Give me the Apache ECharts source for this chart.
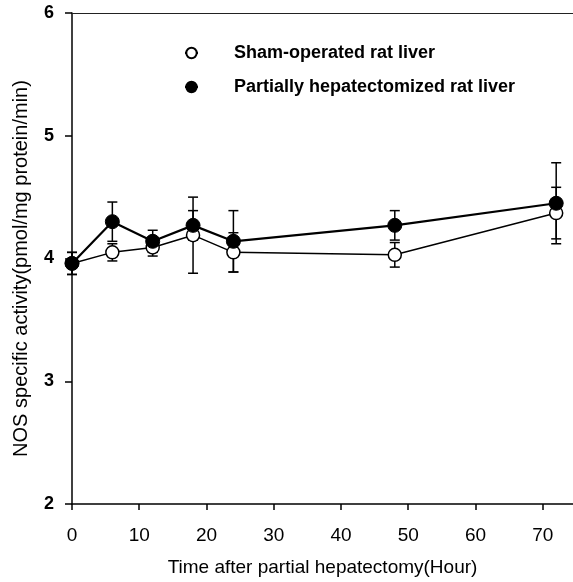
<!DOCTYPE html>
<html>
<head>
<meta charset="utf-8">
<script src="https://cdn.jsdelivr.net/npm/echarts@6/dist/echarts.min.js"></script>
<style>
html,body{margin:0;padding:0;background:#fff;}
#chart{width:573px;height:582px;}
</style>
</head>
<body>
<div id="chart"></div>
<script>
var hours = [0, 6, 12, 18, 24, 48, 72];
var shamMean = [3.96, 4.05, 4.09, 4.19, 4.05, 4.03, 4.37];
var shamErr  = [0.09, 0.07, 0.07, 0.31, 0.16, 0.10, 0.21];
var phMean   = [3.96, 4.30, 4.14, 4.27, 4.14, 4.27, 4.45];
var phErr    = [0.09, 0.16, 0.09, 0.12, 0.25, 0.12, 0.33];
var xTicks = [0, 10, 20, 30, 40, 50, 60, 70];
var yTicks = [2, 3, 4, 5, 6];
var shamName = 'Sham-operated rat liver';
var phName = 'Partially hepatectomized rat liver';

function pairs(xs, ys) { return xs.map(function (x, i) { return [x, ys[i]]; }); }
function errData(xs, m, e) { return xs.map(function (x, i) { return [x, m[i] - e[i], m[i] + e[i]]; }); }

function errRender(params, api) {
  var x = api.value(0);
  var lo = api.coord([x, api.value(1)]);
  var hi = api.coord([x, api.value(2)]);
  var hw = 5;
  var st = { stroke: '#000', lineWidth: 1.5 };
  return {
    type: 'group',
    children: [
      { type: 'line', shape: { x1: lo[0], y1: lo[1], x2: hi[0], y2: hi[1] }, style: st },
      { type: 'line', shape: { x1: lo[0] - hw, y1: lo[1], x2: lo[0] + hw, y2: lo[1] }, style: st },
      { type: 'line', shape: { x1: hi[0] - hw, y1: hi[1], x2: hi[0] + hw, y2: hi[1] }, style: st }
    ]
  };
}

var font = 'Liberation Sans, Arial, sans-serif';
var chart = echarts.init(document.getElementById('chart'), null, { renderer: 'canvas' });
chart.setOption({
  animation: false,
  backgroundColor: '#fff',
  textStyle: { fontFamily: font, color: '#000' },
  grid: { left: 72, right: 0, top: 13, bottom: 78, containLabel: false },
  legend: {
    left: 179, top: 39, orient: 'vertical', itemGap: 16,
    itemWidth: 13, itemHeight: 13,
    data: [shamName, phName],
    textStyle: { fontFamily: font, fontSize: 18, fontWeight: 'bold', color: '#000', padding: [0, 0, 0, 31] }
  },
  xAxis: [{
    type: 'value', min: 0, max: 74.5,
    name: 'Time after partial hepatectomy(Hour)', nameLocation: 'middle', nameGap: 54,
    nameTextStyle: { fontFamily: font, fontSize: 19, color: '#000' },
    axisLine: { lineStyle: { color: '#000', width: 1.5 } },
    axisTick: { show: true, inside: false, length: 6, customValues: xTicks, lineStyle: { color: '#000', width: 1.5 } },
    axisLabel: { customValues: xTicks, fontFamily: font, fontSize: 19, color: '#000', margin: 22 },
    splitLine: { show: false }
  }, {
    type: 'value', min: 0, max: 74.5, position: 'top',
    axisLine: { show: true, lineStyle: { color: '#222', width: 1 } },
    axisTick: { show: false }, axisLabel: { show: false }, splitLine: { show: false }
  }],
  yAxis: {
    type: 'value', min: 2, max: 6, interval: 1,
    name: 'NOS specific activity(pmol/mg protein/min)', nameLocation: 'middle', nameGap: 41,
    nameTextStyle: { fontFamily: font, fontSize: 20, color: '#000', padding: [0, 20, 0, 0] },
    axisLine: { show: true, lineStyle: { color: '#000', width: 1.5 } },
    axisTick: { show: true, inside: false, length: 7, lineStyle: { color: '#000', width: 1.5 } },
    axisLabel: { customValues: yTicks, fontFamily: font, fontSize: 18, fontWeight: 'bold', color: '#000', margin: 18 },
    splitLine: { show: false }
  },
  series: [
    {
      type: 'custom', name: 'shamErr', renderItem: errRender, data: errData(hours, shamMean, shamErr), z: 1,
      encode: { x: 0, y: [1, 2] }, silent: true
    },
    {
      type: 'custom', name: 'phErr', renderItem: errRender, data: errData(hours, phMean, phErr), z: 1,
      encode: { x: 0, y: [1, 2] }, silent: true
    },
    {
      type: 'line', name: shamName, data: pairs(hours, shamMean), z: 3,
      symbol: 'circle', symbolSize: 13,
      lineStyle: { color: '#000', width: 1.5 },
      itemStyle: { color: '#fff', borderColor: '#000', borderWidth: 1.5 }
    },
    {
      type: 'line', name: phName, data: pairs(hours, phMean), z: 4,
      symbol: 'circle', symbolSize: 14,
      lineStyle: { color: '#000', width: 2.2 },
      itemStyle: { color: '#000', borderColor: '#000', borderWidth: 1 }
    }
  ]
});
</script>
</body>
</html>
